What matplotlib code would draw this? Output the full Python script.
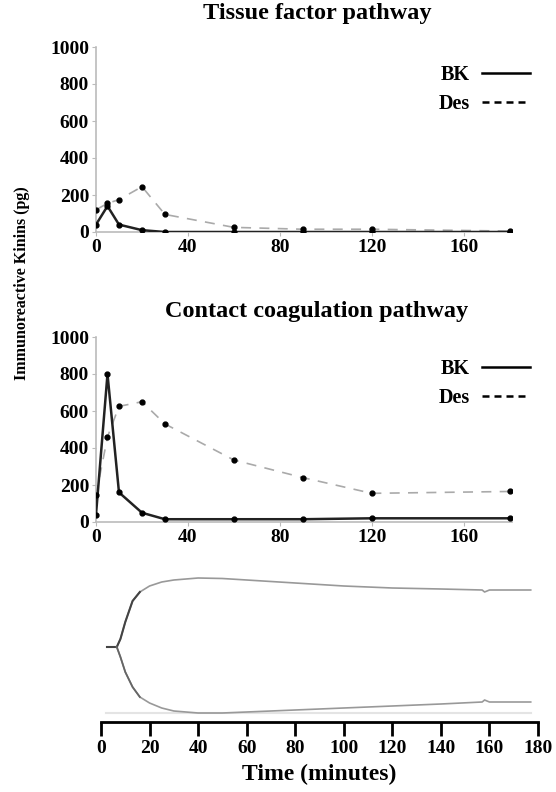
import matplotlib
matplotlib.use('Agg')
import matplotlib.pyplot as plt
from matplotlib.lines import Line2D

plt.rcParams['font.family'] = ['Liberation Serif', 'DejaVu Serif']
plt.rcParams['font.weight'] = 'bold'

# sampling times (minutes)
times = [0, 5, 10, 20, 30, 60, 90, 120, 180]

# tissue factor pathway (pg)
tf_bk = [40, 140, 40, 10, 0, 0, 0, 0, 0]
tf_des = [120, 155, 175, 245, 95, 25, 15, 15, 5]

# contact coagulation pathway (pg)
cc_bk = [40, 800, 160, 50, 15, 15, 15, 20, 20]
cc_des = [145, 460, 625, 650, 530, 335, 240, 155, 165]

# thromboelastography trace (amplitude, arbitrary units)
teg_flat_t = [2.6, 6.5]
teg_flat_a = [0, 0]
teg_t = [6.5, 8, 10, 13, 16, 20, 25, 30, 40, 50, 60, 80, 100, 120, 140, 157, 158, 160, 177]
teg_up = [0, 8, 25, 46, 55, 61, 65, 67, 69, 68.5, 67, 64, 61, 59, 58, 57, 55, 57, 57]
teg_lo = [0, -10, -25, -40, -50, -56, -61, -64, -66, -66, -65, -63, -61, -59, -57, -55, -53, -55, -55]

W, H = 556, 792
fig = plt.figure(figsize=(W / 100, H / 100), dpi=100)


def px_axes(left, top, right, bottom):
    return fig.add_axes([left / W, 1 - bottom / H, (right - left) / W, (bottom - top) / H])


def kinin_panel(ax, bk, des, title_y, title, legend_top):
    ax.plot(times, des, color='#aaaaaa', linestyle=(0, (6, 5)), lw=1.2, zorder=2)
    ax.plot(times, bk, color='#222222', lw=1.8, zorder=3)
    ax.plot(times, des, 'o', color='black', ms=3.5, zorder=4)
    ax.plot(times, bk, 'o', color='black', ms=3.5, zorder=4)
    ax.set_xlim(0, 181)
    ax.set_ylim(0, 1000)
    ax.set_xticks([0, 40, 80, 120, 160])
    ax.set_yticks([0, 200, 400, 600, 800, 1000])
    for s in ['top', 'right']:
        ax.spines[s].set_visible(False)
    for s in ['left', 'bottom']:
        ax.spines[s].set_color('#bbbbbb')
        ax.spines[s].set_linewidth(1.2)
    ax.tick_params(colors='#bbbbbb', labelcolor='black', labelsize=14, length=3, pad=2)
    for lab in ax.get_xticklabels() + ax.get_yticklabels():
        lab.set_fontweight('bold')
    handles = [Line2D([], [], color='black', lw=1.8),
               Line2D([], [], color='black', lw=1.8, linestyle=(0, (2.8, 2)))]
    ax.legend(handles, ['BK', 'Des'], loc='upper right', frameon=False, markerfirst=False,
              prop={'weight': 'bold', 'size': 14.5}, handlelength=2.4, handletextpad=0.6,
              labelspacing=0.45, borderpad=0, borderaxespad=0,
              bbox_to_anchor=(530 / W, 1 - legend_top / H), bbox_transform=fig.transFigure)
    fig.text(317 / W, 1 - title_y / H, title, ha='center', va='center', fontsize=17.5, fontweight='bold')


ax1 = px_axes(96, 47, 512, 232)
kinin_panel(ax1, tf_bk, tf_des, 14, 'Tissue factor pathway', 65)

ax2 = px_axes(96, 337, 512, 522)
kinin_panel(ax2, cc_bk, cc_des, 311, 'Contact coagulation pathway', 359)

fig.text(22 / W, 1 - 283 / H, 'Immunoreactive Kinins (pg)', rotation=90, ha='center', va='center',
         fontsize=11.5, fontweight='bold')

# bottom: coagulation trace
ax3 = px_axes(101, 559, 538, 722)
ax3.plot([2, 177], [-66, -66], color='#e4e4e4', lw=1.5)
ax3.plot(teg_flat_t, teg_flat_a, color='#444444', lw=1.5)
ax3.plot(teg_t, teg_up, color='#999999', lw=1.2)
ax3.plot(teg_t, teg_lo, color='#999999', lw=1.2)
ax3.plot(teg_t[:5], teg_up[:5], color='#444444', lw=1.5)
ax3.plot(teg_t[:5], teg_lo[:5], color='#666666', lw=1.3)
ax3.set_xlim(0, 180)
ax3.set_ylim(-75, 88)
ax3.set_xticks(range(0, 181, 20))
ax3.set_yticks([])
for s in ['top', 'right', 'left']:
    ax3.spines[s].set_visible(False)
ax3.spines['bottom'].set_linewidth(2)
ax3.tick_params(axis='x', length=10, width=2, labelsize=14, pad=3)
for lab in ax3.get_xticklabels():
    lab.set_fontweight('bold')
ax3.set_xlabel('Time (minutes)', fontsize=17, fontweight='bold', labelpad=5)

fig.savefig('out.png', dpi=100)
